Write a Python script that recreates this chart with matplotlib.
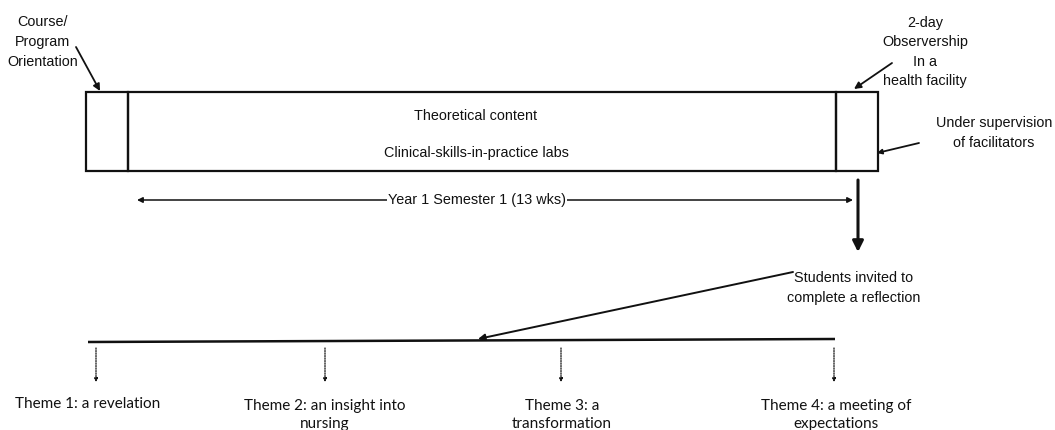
import matplotlib
matplotlib.use("Agg")
import matplotlib.pyplot as plt
from matplotlib.patches import Rectangle, FancyArrowPatch

# ---- text content ----
top_left_label = "Course/\nProgram\nOrientation"
top_right_label = "2-day\nObservership\nIn a\nhealth facility"
supervision_label = "Under supervision\nof facilitators"
box_lines = ["Theoretical content", "Clinical-skills-in-practice labs"]
semester_label = "Year 1 Semester 1 (13 wks)"
reflection_label = "Students invited to\ncomplete a reflection"
themes = ["Theme 1: a revelation", "Theme 2: an insight into\nnursing",
          "Theme 3: a\ntransformation", "Theme 4: a meeting of\nexpectations"]

W, H = 1055, 430
fig = plt.figure(figsize=(W / 100, H / 100), dpi=100)
ax = fig.add_axes([0, 0, 1, 1])
ax.set_xlim(0, W)
ax.set_ylim(H, 0)
ax.axis("off")

narrow = ["Liberation Sans Narrow", "Liberation Sans", "DejaVu Sans"]
theme_font = ["Lato", "Open Sans", "DejaVu Sans"]
fs = 10.4
lc = "#111111"

# main boxes
x0, x1, x2, x3 = 86, 128, 836, 878
y0, y1 = 92, 171
for a, b in [(x0, x1), (x1, x2), (x2, x3)]:
    ax.add_patch(Rectangle((a, y0), b - a, y1 - y0, fill=False, ec=lc, lw=1.6))

def txt(x, y, s, family=narrow, size=fs, ls=1.5, **kw):
    ax.text(x, y, s, ha="center", va="center", family=family, fontsize=size,
            color="#111111", linespacing=ls, **kw)

def arrow(p, q, style="-|>", lw=1.3, ms=10, ls="-"):
    ax.add_patch(FancyArrowPatch(p, q, arrowstyle=style, mutation_scale=ms,
                                 lw=lw, color=lc, linestyle=ls,
                                 shrinkA=0, shrinkB=0))

txt(43, 42, top_left_label)
arrow((76, 47), (100, 91))

txt(925, 52, top_right_label)
arrow((892, 63), (854, 89))

txt(994, 133, supervision_label)
arrow((919, 143), (877, 153), ms=7)

txt(476, 116, box_lines[0])
txt(476, 153, box_lines[1])

# semester span
arrow((137, 200), (853, 200), style="<|-|>", lw=1.1, ms=8)
ax.text(477, 200, semester_label, ha="center", va="center", family=narrow,
        fontsize=fs, color="#111111",
        bbox=dict(fc="white", ec="none", pad=1.0))

# thick down arrow
arrow((858, 180), (858, 252), lw=2.2, ms=16)

txt(854, 288, reflection_label)
arrow((793, 272), (478, 339), lw=1.4, ms=10)

# theme line
ax.plot([88, 835], [342, 339], color=lc, lw=1.8, solid_capstyle="butt")

theme_x = [96, 325, 561, 834]
theme_tx = [88, 325, 562, 836]
for xa, xt, s in zip(theme_x, theme_tx, themes):
    arrow((xa, 348), (xa, 382), lw=0.9, ms=5, ls=(0, (1, 1)))
    if "\n" in s:
        txt(xt, 415, s, family=theme_font, size=11, ls=1.45)
    else:
        txt(xt, 404, s, family=theme_font, size=11)

fig.savefig("out.png", dpi=100, facecolor="white")
